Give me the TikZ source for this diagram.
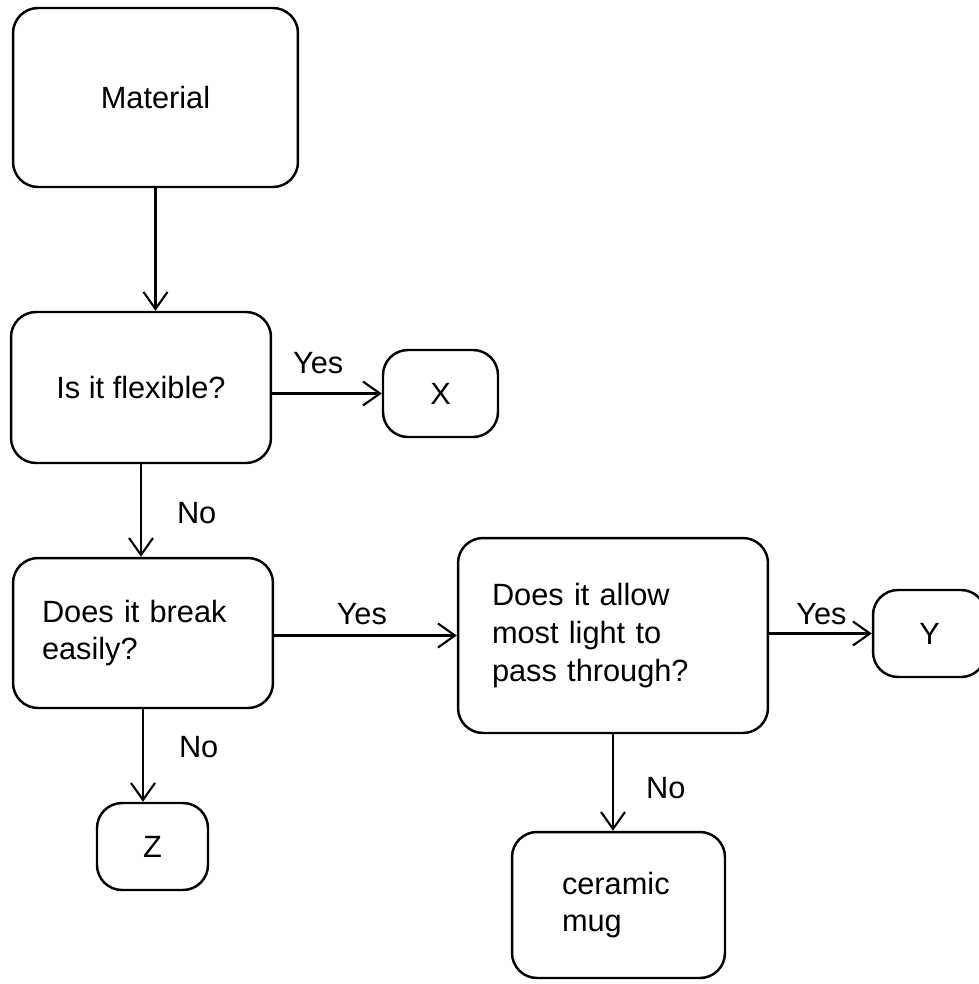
\documentclass[tikz,border=0pt]{standalone}
\usepackage{fontspec}
\setmainfont{Liberation Sans}
\usetikzlibrary{arrows.meta}

\tikzstyle{box} = [draw, line width=1.4pt, rounded corners=0.5cm, font=\fontsize{17.5}{21.5}\selectfont, inner ysep=0pt]
\tikzstyle{plainbox} = [box, align=center]
\tikzstyle{askbox} = [box, align=left]
\tikzstyle{answer} = [font=\fontsize{17.5}{21.5}\selectfont, inner sep=0pt]
\tikzstyle{arrowdecorate} = [-{Straight Barb[length=3.4mm,width=4.8mm]}, line width=1.2pt]

\begin{document}
\begin{tikzpicture}[x=0.02cm, y=-0.02cm]
    \useasboundingbox (0,0) rectangle (979,984);

    % boxes, text centred
    \foreach \nodename/\x/\y/\w/\h/\txt in {
      material/155.5/97.5/5.7/3.58/Material,
      flexible/141/387.5/5.2/3.02/Is it flexible?,
      X/440.5/393.5/2.3/1.74/X,
      Z/152.5/846.5/2.22/1.74/Z,
      Y/929.5/633.5/2.26/1.74/Y}
    {
      \node[plainbox, minimum width=\w cm, minimum height=\h cm] (\nodename) at (\x,\y) {\txt};
    }

    % boxes, text on the left
    \foreach \nodename/\x/\y/\w/\h/\pad/\tw/\txt in {
      breakq/143/633/5.2/3.0/0.58/4.04/{Does it break\\easily?},
      light/613/635.5/6.2/3.9/0.68/4.84/{Does it allow\\most light to\\pass through?},
      ceramic/618.5/905/4.26/2.92/1.0/2.26/{ceramic\\mug}}
    {
      \node[askbox, minimum width=\w cm, minimum height=\h cm, inner xsep=\pad cm, text width=\tw cm] (\nodename) at (\x,\y) {\txt};
    }

    \draw[arrowdecorate] (material.south) -- (material.south |- flexible.north);

    %edges going down
    \foreach \startnode/\endnode/\pos/\gap/\word in {
      flexible/breakq/0.53/0.7/No, breakq/Z/0.41/0.7/No, light/ceramic/0.56/0.64/No}
    {
      \draw[arrowdecorate] (\startnode.south) -- node[answer, pos=\pos, right=\gap cm] {\word} (\startnode.south |- \endnode.north);
    }

    %edges going right
    \foreach \startnode/\endnode/\pos/\gap/\word in {
      flexible/X/0.42/0.38/Yes, breakq/light/0.48/0.2/Yes, light/Y/0.51/0.16/Yes}
    {
      \draw[arrowdecorate] (\startnode.east |- \endnode.west) -- node[answer, pos=\pos, above=\gap cm] {\word} (\endnode.west);
    }
\end{tikzpicture}
\end{document}
